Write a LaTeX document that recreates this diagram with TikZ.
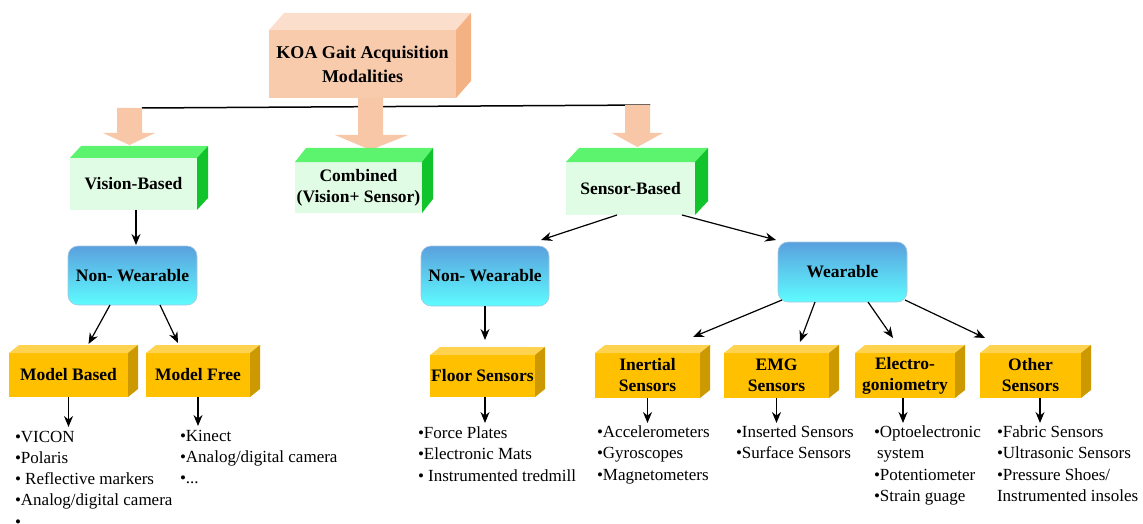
\documentclass[tikz,border=0pt]{standalone}
\usepackage{fontspec}
\setmainfont{Liberation Serif}
\usetikzlibrary{arrows.meta}

\definecolor{peachFront}{HTML}{F8CBAD}
\definecolor{peachTop}{HTML}{FBDFCC}
\definecolor{peachSide}{HTML}{F4B183}
\definecolor{peachArrow}{HTML}{F7C7A8}
\definecolor{greenFront}{HTML}{E0FCE4}
\definecolor{greenTop}{HTML}{5CF46E}
\definecolor{greenSide}{HTML}{12C42C}
\definecolor{orangeFront}{HTML}{FFC000}
\definecolor{orangeTop}{HTML}{FFD34F}
\definecolor{orangeSide}{HTML}{CC9900}
\definecolor{blueTop}{HTML}{5AA0DE}
\definecolor{blueBot}{HTML}{5EFCFF}
\definecolor{blueEdge}{HTML}{A9C6DF}

\tikzset{
  face/.style={inner sep=0pt, outer sep=0pt, draw=none, align=center,
    font=\bfseries\fontsize{17.5}{21}\selectfont},
  peachfront/.style={face, fill=peachFront},
  greenfront/.style={face, fill=greenFront},
  orangefront/.style={face, fill=orangeFront},
  bluebox/.style={face, rounded corners=10pt, top color=blueTop,
    bottom color=blueBot, draw=blueEdge, line width=0.6pt},
  conn/.style={draw=black, line width=1.2pt, -{Stealth[length=11pt,width=9pt]}},
  blockarrow/.style={fill=peachArrow},
  listtext/.style={inner sep=0pt, outer sep=0pt, anchor=north west,
    align=left, font=\fontsize{17}{21.2}\selectfont},
}

% top and right faces of a box whose front face is node #1, depth (#2,#3)
\newcommand\cubeside[5]{%
  \fill[#4] (#1.north west) -- ([shift={(#2,-#3)}]#1.north west)
     -- ([shift={(#2,-#3)}]#1.north east) -- (#1.north east) -- cycle;
  \fill[#5] (#1.north east) -- ([shift={(#2,-#3)}]#1.north east)
     -- ([shift={(#2,-#3)}]#1.south east) -- (#1.south east) -- cycle;}

\begin{document}
\begin{tikzpicture}[x=1pt,y=-1pt]
\useasboundingbox (0,0) rectangle (1143,524);

% ---------- root ----------
\node[peachfront, minimum width=187pt, minimum height=68pt,
      font=\bfseries\fontsize{18}{24}\selectfont] (root) at (362.5,64)
      {KOA Gait Acquisition\\Modalities};
\cubeside{root}{15}{17}{peachTop}{peachSide}

% ---------- distribution bar ----------
\coordinate (barL) at (142,108);
\coordinate (barR) at (650,105);
\draw[line width=1.5pt] (barL) -- (barR);

% block arrows
\fill[blockarrow] (117,108) -- (142,108) -- (142,133) -- (155,133)
   -- (129.5,145) -- (103,133) -- (117,133) -- cycle;
\fill[blockarrow] (358,98) -- (383,98) -- (383,135) -- (408,135)
   -- (370.5,150) -- (335,135) -- (358,135) -- cycle;
\fill[blockarrow] (625,105) -- (650,105) -- (650,133) -- (663,133)
   -- (637.5,147) -- (612,133) -- (625,133) -- cycle;

% ---------- second level ----------
\node[greenfront, minimum width=127pt, minimum height=52pt] (vb) at (133.5,184) {Vision-Based};
\cubeside{vb}{11}{12}{greenTop}{greenSide}
\node[greenfront, minimum width=127pt, minimum height=51pt] (cb) at (358.5,187.5) {Combined\\(Vision+ Sensor)};
\cubeside{cb}{11}{14}{greenTop}{greenSide}
\node[greenfront, minimum width=129pt, minimum height=53pt] (sb) at (630.5,188.5) {Sensor-Based};
\cubeside{sb}{13}{14}{greenTop}{greenSide}

% ---------- third level ----------
\node[bluebox, minimum width=129pt, minimum height=59pt] (nw1) at (132.5,275.5) {Non- Wearable};
\node[bluebox, minimum width=128pt, minimum height=60pt] (nw2) at (485,276) {Non- Wearable};
\node[bluebox, minimum width=129pt, minimum height=60pt] (wb) at (842.5,272) {Wearable};

\draw[conn] ([shift={(2.5,0)}]vb.south) -- ([shift={(2.5,-1)}]vb.south |- nw1.north);
\draw[conn] ([shift={(-13.5,0)}]sb.south) -- ([shift={(-8,-6)}]nw2.north east);
\draw[conn] ([shift={(51.5,0)}]sb.south) -- ([shift={(-2,-2)}]wb.north west);

% ---------- fourth level ----------
\node[orangefront, minimum width=119pt, minimum height=44pt] (mb) at (68.5,375) {Model Based};
\node[orangefront, minimum width=104pt, minimum height=44pt] (mf) at (198,375) {Model Free};
\node[orangefront, minimum width=105pt, minimum height=42pt] (fs) at (482.5,376) {Floor Sensors};
\node[orangefront, minimum width=105pt, minimum height=45pt] (is) at (647.5,375.5) {Inertial\\Sensors};
\node[orangefront, minimum width=105pt, minimum height=45pt] (emg) at (776.5,375.5) {EMG\\Sensors};
\node[orangefront, minimum width=100pt, minimum height=45pt] (eg) at (905,375.5) {Electro-\\goniometry};
\node[orangefront, minimum width=101pt, minimum height=45pt] (os) at (1030.5,375.5) {Other\\Sensors};
\foreach \n in {mb,mf,fs,is,emg,eg,os}{\cubeside{\n}{10}{8}{orangeTop}{orangeSide}}

\draw[conn] ([shift={(-22.5,0)}]nw1.south) -- ([shift={(20,-9)}]mb.north);
\draw[conn] ([shift={(27.5,0)}]nw1.south) -- ([shift={(-20,-10)}]mf.north);
\draw[conn] (nw2.south) -- ([shift={(0,-15)}]nw2.south |- fs.north);
\draw[conn] ([shift={(4,-2)}]wb.south west) -- ([shift={(45.5,-16)}]is.north);
\draw[conn] ([shift={(-27.5,0)}]wb.south) -- ([shift={(23.5,-11)}]emg.north);
\draw[conn] ([shift={(25.5,0)}]wb.south) -- ([shift={(-12,-15)}]eg.north);
\draw[conn] ([shift={(-2,-2)}]wb.south east) -- ([shift={(5,-15)}]os.north west);

% ---------- item lists ----------
\node[listtext] (mbl) at (15,431) {•VICON\\•Polaris\\• Reflective markers\\•Analog/digital camera\\•};
\node[listtext] (mfl) at (180,430) {•Kinect\\•Analog/digital camera\\•...};
\node[listtext] (fsl) at (418,427) {•Force Plates\\•Electronic Mats\\• Instrumented tredmill};
\node[listtext] (isl) at (597,426) {•Accelerometers\\•Gyroscopes\\•Magnetometers};
\node[listtext] (emgl) at (736,426) {•Inserted Sensors\\•Surface Sensors};
\node[listtext] (egl) at (874,426) {•Optoelectronic\\\hspace{3pt}system\\•Potentiometer\\•Strain guage};
\node[listtext] (osl) at (997,426) {•Fabric Sensors\\•Ultrasonic Sensors\\•Pressure Shoes/\\Instrumented insoles};

\draw[conn] (mb.south) -- ([shift={(0,-4)}]mb.south |- mbl.north);
\draw[conn] (mf.south) -- ([shift={(0,-4)}]mf.south |- mfl.north);
\draw[conn] ([shift={(2.5,0)}]fs.south) -- ([shift={(2.5,-4)}]fs.south |- fsl.north);
\draw[conn] (is.south) -- ([shift={(0,-3)}]is.south |- isl.north);
\draw[conn] (emg.south) -- ([shift={(0,-3)}]emg.south |- emgl.north);
\draw[conn] ([shift={(-2,0)}]eg.south) -- ([shift={(-2,-3)}]eg.south |- egl.north);
\draw[conn] ([shift={(9.5,0)}]os.south) -- ([shift={(9.5,-3)}]os.south |- osl.north);

\end{tikzpicture}
\end{document}
